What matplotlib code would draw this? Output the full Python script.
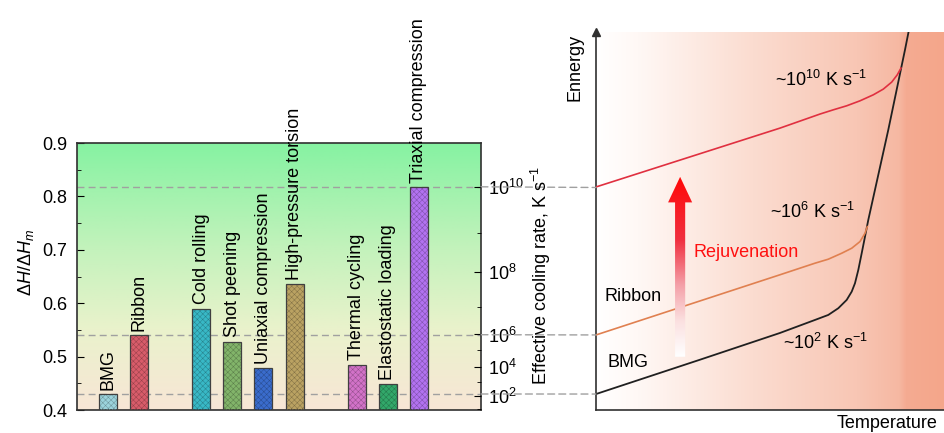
import numpy as np
import matplotlib
matplotlib.use("Agg")
from matplotlib import pyplot as plt
from matplotlib.colors import LinearSegmentedColormap, to_rgb
from matplotlib.patches import Polygon, ConnectionPatch

plt.rcParams['font.family'] = ['Liberation Sans', 'DejaVu Sans']
plt.rcParams['mathtext.fontset'] = 'custom'
plt.rcParams['mathtext.rm'] = 'Liberation Sans'
plt.rcParams['mathtext.it'] = 'Liberation Sans:italic'
plt.rcParams['hatch.linewidth'] = 0.35

# left panel data
methods = ['BMG', 'Ribbon', 'Cold rolling', 'Shot peening', 'Uniaxial compression',
           'High-pressure torsion', 'Thermal cycling', 'Elastostatic loading',
           'Triaxial compression']
slots = [0, 1, 3, 4, 5, 6, 8, 9, 10]
dH_ratio = [0.430, 0.540, 0.590, 0.528, 0.479, 0.636, 0.485, 0.449, 0.817]
bar_colors = ['#9bd3dc', '#d85c6a', '#38b8c6', '#82b46a', '#3a6ccc',
              '#baa262', '#d272c8', '#32a86a', '#b272f0']

# cooling rate axis (non-uniform)
rate_major_exp = [2, 4, 6, 8, 10]
rate_major_pos = [0.427, 0.480, 0.5415, 0.659, 0.818]
rate_minor_pos = [0.402, 0.452, 0.5115, 0.592, 0.732]
ref_levels = [0.430, 0.541, 0.818]

# right panel curves (temperature, energy)
bmg_T = [0.0, 0.298, 0.527, 0.6275, 0.6656, 0.6943, 0.7183, 0.7327, 0.7421, 0.7516,
         0.7613, 0.7708, 0.7802, 0.8375, 0.8854, 0.897]
bmg_E = [0.430, 0.4945, 0.5447, 0.5692, 0.5786, 0.5912, 0.6068, 0.6224, 0.6382, 0.6632,
         0.6945, 0.7258, 0.7571, 0.9263, 1.0767, 1.115]
rib_T = [0.0, 0.527, 0.6275, 0.6656, 0.704, 0.7327, 0.7564, 0.7708, 0.7774]
rib_E = [0.541, 0.654, 0.6758, 0.6833, 0.6945, 0.7039, 0.7164, 0.7321, 0.7445]
fast_T = [0.0, 0.527, 0.642, 0.680, 0.718, 0.7564, 0.7946, 0.8232, 0.8473, 0.8633, 0.8739]
fast_E = [0.819, 0.9295, 0.9560, 0.9639, 0.9714, 0.9808, 0.9921, 1.0028, 1.0160, 1.0297, 1.0423]

fig = plt.figure(figsize=(9.45, 4.33), dpi=100)
ax1 = fig.add_axes([0.0815, 0.0531, 0.4275, 0.6166])
ax2 = fig.add_axes([0.6307, 0.0531, 0.3693, 0.8729])

# ---- left panel ----
ax1.set_xlim(-1, 12)
ax1.set_ylim(0.4, 0.9)
bg_left = LinearSegmentedColormap.from_list(
    'bgl', [(0, '#f8e6d6'), (0.3, '#eaf2cc'), (0.6, '#c4f2bc'), (1.0, '#86f2a2')])
ax1.imshow(np.linspace(0, 1, 256).reshape(-1, 1), cmap=bg_left, origin='lower',
           extent=(-1, 12, 0.4, 0.9), aspect='auto', zorder=0)

for y in ref_levels:
    ax1.axhline(y, color='#a0a0a0', lw=1, ls=(0, (5, 3)), zorder=1)

for x, h, c, name in zip(slots, dH_ratio, bar_colors, methods):
    dark = tuple(v * 0.7 for v in to_rgb(c))
    ax1.bar(x, h, width=0.58, color=c, lw=0, zorder=2)
    ax1.bar(x, h, width=0.58, facecolor='none', edgecolor=dark, hatch='xxxxxx', lw=0, zorder=3)
    ax1.bar(x, h, width=0.58, facecolor='none', edgecolor='#404040', lw=0.9, zorder=4)
    ax1.text(x, h + 0.008, name, rotation=90, ha='center', va='bottom', fontsize=13)

ax1.set_xticks([])
ax1.set_yticks([0.4, 0.5, 0.6, 0.7, 0.8, 0.9])
ax1.set_yticks(np.arange(0.45, 0.9, 0.1), minor=True)
ax1.tick_params(axis='y', which='both', direction='in', labelsize=13, pad=7)
ax1.tick_params(axis='y', which='major', length=5)
ax1.tick_params(axis='y', which='minor', length=3)
for s in ax1.spines.values():
    s.set_linewidth(1.2)
    s.set_color('#303030')

ax1r = ax1.twinx()
ax1r.set_ylim(ax1.get_ylim())
ax1r.set_yticks(rate_major_pos)
ax1r.set_yticklabels(['10$^{%d}$' % e for e in rate_major_exp])
ax1r.set_yticks(rate_minor_pos, minor=True)
ax1r.tick_params(axis='y', which='both', direction='in', labelsize=13, pad=5)
ax1r.tick_params(axis='y', which='major', length=5)
ax1r.tick_params(axis='y', which='minor', length=3)
for s in ax1r.spines.values():
    s.set_visible(False)

fig.text(26 / 945, (433 - 263) / 433, r'$\Delta H/\Delta H_m$', rotation=90,
         ha='center', va='center', fontsize=13)
fig.text(541 / 945, (433 - 275) / 433, 'Effective cooling rate, K s$^{-1}$', rotation=90,
         ha='center', va='center', fontsize=13)

# ---- right panel ----
ax2.set_xlim(0, 1)
ax2.set_ylim(0.4, 1.11)
bg_right = LinearSegmentedColormap.from_list(
    'bgr', [(0, '#ffffff'), (0.12, '#fff8f5'), (0.45, '#fbdcd0'), (0.75, '#f8c6b4'),
            (0.87, '#f6b8a2'), (0.89, '#f5ab92'), (1.0, '#f4a68a')])
ax2.imshow(np.linspace(0, 1, 512).reshape(1, -1), cmap=bg_right,
           extent=(0, 1, 0.4, 1.11), aspect='auto', zorder=0)

ax2.plot(bmg_T, bmg_E, color='#202020', lw=1.3, zorder=3, solid_joinstyle='round')
ax2.plot(rib_T, rib_E, color='#e08050', lw=1.2, zorder=3, solid_joinstyle='round')
ax2.plot(fast_T, fast_E, color='#e03040', lw=1.2, zorder=3, solid_joinstyle='round')

# gradient arrow
ax_c, shaft_hw, head_hw = 0.241, 0.0145, 0.0345
y0, y_head, y_tip = 0.50, 0.790, 0.838
arrow = Polygon([(ax_c - shaft_hw, y0), (ax_c + shaft_hw, y0), (ax_c + shaft_hw, y_head),
                 (ax_c + head_hw, y_head), (ax_c, y_tip), (ax_c - head_hw, y_head),
                 (ax_c - shaft_hw, y_head)], closed=True, facecolor='none', edgecolor='none')
ax2.add_patch(arrow)
arrow_cmap = LinearSegmentedColormap.from_list(
    'arr', [(0, '#ffffff'), (0.2, '#fbe0e0'), (0.4, '#f4a0a8'), (0.65, '#f03040'), (1.0, '#ff0808')])
grad = ax2.imshow(np.linspace(0, 1, 256).reshape(-1, 1), cmap=arrow_cmap, origin='lower',
                  extent=(ax_c - head_hw, ax_c + head_hw, y0, y_tip), aspect='auto', zorder=4)
grad.set_clip_path(arrow)

ax2.text(0.278, 0.695, 'Rejuvenation', color='#ff1010', fontsize=13, va='center', ha='left')
ax2.text(0.513, 1.020, '~10$^{10}$ K s$^{-1}$', fontsize=13, va='center', ha='left')
ax2.text(0.499, 0.772, '~10$^{6}$ K s$^{-1}$', fontsize=13, va='center', ha='left')
ax2.text(0.536, 0.526, '~10$^{2}$ K s$^{-1}$', fontsize=13, va='center', ha='left')
ax2.text(0.023, 0.614, 'Ribbon', fontsize=13, va='center', ha='left')
ax2.text(0.0315, 0.490, 'BMG', fontsize=13, va='center', ha='left')

ax2.set_xticks([])
ax2.set_yticks([])
ax2.spines['top'].set_visible(False)
ax2.spines['right'].set_visible(False)
for s in ('left', 'bottom'):
    ax2.spines[s].set_linewidth(1.2)
    ax2.spines[s].set_color('#303030')
ax2.plot(0, 1, marker='^', color='#303030', ms=6, transform=ax2.transAxes, clip_on=False, zorder=5)
ax2.text(-0.06, 0.995, 'Ennergy', rotation=90, ha='center', va='top', fontsize=13,
         transform=ax2.transAxes)
fig.text(887 / 945, (433 - 415) / 433, 'Temperature', ha='center', va='top', fontsize=13)

# dashed guides bridging the two panels
for y in ref_levels:
    con = ConnectionPatch(xyA=(12, y), coordsA=ax1.transData, xyB=(0, y), coordsB=ax2.transData,
                          color='#a0a0a0', lw=1, ls=(0, (5, 3)))
    fig.add_artist(con)

fig.savefig('out.png', dpi=100)
